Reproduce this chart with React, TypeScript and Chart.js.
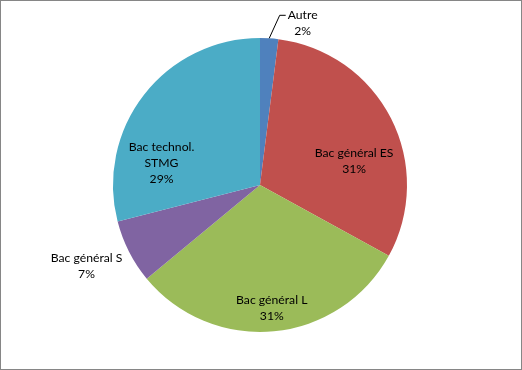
import React, { useEffect, useRef } from "react";
import { Chart, registerables } from "chart.js";

Chart.register(...registerables);

const categories = ["Autre", "Bac général ES", "Bac général L", "Bac général S", "Bac technol. STMG"];
const values = [2, 31, 31, 7, 29];
const labelLines = [["Autre", "2%"], ["Bac général ES", "31%"], ["Bac général L", "31%"], ["Bac général S", "7%"], ["Bac technol.", "STMG", "29%"]];
const colors = ["#4F81BD", "#C0504D", "#9BBB59", "#8064A2", "#4BACC6"];
// label placement relative to pie centre, in units of radius
const labelPlace = [[0.29, -1.10], [0.64, -0.16], [0.08, 0.84], [-1.18, 0.55], [-0.67, -0.15]];
const leader = [true, false, false, false, false];

const FONT = "12.2px Lato, 'Liberation Sans', sans-serif";

const labelPlugin = {
  id: "pieLabels",
  afterDatasetsDraw(chart: any) {
    const ctx = chart.ctx;
    const meta = chart.getDatasetMeta(0);
    ctx.save();
    ctx.font = FONT;
    ctx.fillStyle = "#000";
    ctx.textAlign = "center";
    ctx.textBaseline = "middle";
    const lh = 16;
    meta.data.forEach((arc: any, i: number) => {
      const cx = arc.x, cy = arc.y, r = arc.outerRadius;
      const lx = cx + labelPlace[i][0] * r;
      const ly = cy + labelPlace[i][1] * r;
      const lines = labelLines[i];
      const top = ly - ((lines.length - 1) * lh) / 2;
      lines.forEach((t, k) => ctx.fillText(t, lx, top + k * lh));
      if (leader[i]) {
        const mid = (arc.startAngle + arc.endAngle) / 2;
        const sx = cx + Math.cos(mid) * r;
        const sy = cy + Math.sin(mid) * r;
        const w = ctx.measureText(lines[0]).width;
        const ex = lx - w / 2 - 2;
        ctx.beginPath();
        ctx.strokeStyle = "#000";
        ctx.lineWidth = 1;
        ctx.moveTo(sx, sy);
        ctx.lineTo(ex - 6, top);
        ctx.lineTo(ex, top);
        ctx.stroke();
      }
    });
    ctx.restore();
  },
  afterDraw(chart: any) {
    const ctx = chart.ctx;
    ctx.save();
    ctx.strokeStyle = "#868686";
    ctx.lineWidth = 1;
    ctx.strokeRect(0.5, 0.5, chart.width - 1, chart.height - 1);
    ctx.restore();
  },
};

export default function App() {
  const ref = useRef<HTMLCanvasElement>(null);
  useEffect(() => {
    if (!ref.current) return;
    const chart = new Chart(ref.current, {
      type: "pie",
      data: {
        labels: categories,
        datasets: [{ data: values, backgroundColor: colors, borderWidth: 0 }],
      },
      options: {
        responsive: false,
        animation: false,
        layout: { padding: { top: 38, bottom: 38, left: 0, right: 2 } },
        plugins: { legend: { display: false }, tooltip: { enabled: false } },
      },
      plugins: [labelPlugin],
    });
    return () => chart.destroy();
  }, []);
  return (
    <div style={{ position: "fixed", left: 0, top: 0, width: 522, height: 370, background: "#fff" }}>
      <canvas ref={ref} width={522} height={370} style={{ display: "block" }} />
    </div>
  );
}
